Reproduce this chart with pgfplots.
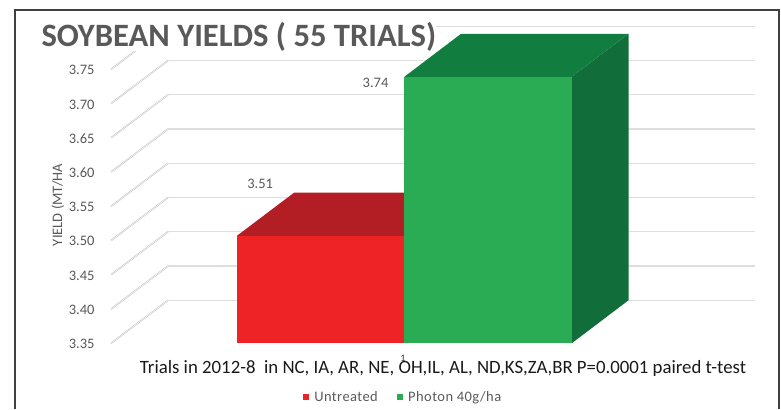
\documentclass[border=0pt]{standalone}
\usepackage{fontspec}
\setmainfont{Carlito}
\newfontfamily\lsfont[LetterSpace=3]{Carlito}
\usepackage{pgfplots}
\pgfplotsset{compat=1.18}
\definecolor{cred}{HTML}{EE2326}
\definecolor{credtop}{HTML}{B31E24}
\definecolor{cgreen}{HTML}{2AAC54}
\definecolor{cgreentop}{HTML}{117D3F}
\definecolor{cgreenside}{HTML}{116E3A}
\definecolor{cgrid}{HTML}{DEDEDE}
\definecolor{cdiag}{HTML}{BDBDBD}
\definecolor{ctext}{HTML}{595959}
\begin{document}
\begin{tikzpicture}
\begin{axis}[
  scale only axis, width=644pt, height=343.3pt,
  xmin=111, xmax=755, ymin=3.35, ymax=3.8512,
  clip=false,
  axis line style={draw=none},
  major tick length=0pt,
  xtick=\empty,
  ytick={3.35,3.40,3.45,3.50,3.55,3.60,3.65,3.70,3.75},
  /pgf/number format/.cd, fixed, fixed zerofill, precision=2, assume math mode=true,
  /pgfplots/.cd,
  yticklabel style={font=\fontsize{14.5}{15}\selectfont, text=ctext, anchor=east, xshift=-13pt, yshift=-0.8pt},
  ylabel={YIELD (MT/HA},
  every axis y label/.style={at={(rel axis cs:-0.0825,0.403)}, rotate=90, anchor=center,
     font=\fontsize{14.5}{15}\selectfont, text=ctext},
  title={SOYBEAN YIELDS ( 55 TRIALS)},
  every axis title/.style={at={(rel axis cs:0.1985,0.8925)}, anchor=center,
     font=\fontsize{32.6}{34}\selectfont\bfseries, text=ctext, fill=white, inner sep=0pt},
  xlabel={Trials in 2012-8\ \ in NC, IA, AR, NE, OH,IL, AL, ND,KS,ZA,BR P=0.0001 paired t-test},
  every axis x label/.style={at={(rel axis cs:0.5155,-0.0725)}, anchor=center,
     font=\fontsize{18.8}{20}\selectfont, text=black!90},
  legend columns=2,
  legend style={at={(rel axis cs:0.4535,-0.1564)}, anchor=center, draw=none, fill=none,
     inner sep=0pt, font=\fontsize{14.5}{15}\lsfont, text=ctext,
     /tikz/every even column/.style={column sep=17pt},
     /tikz/every odd column/.style={column sep=3pt}},
  unbounded coords=jump,
]
% depth of the 3-D box: 57 px across, 43 px (0.0628 in y) upward
% back wall and side wall gridlines
\addplot[forget plot, cgrid, line width=1.3pt] coordinates {
 (168,3.4128)(755,3.4128)(755,nan)
 (168,3.4628)(755,3.4628)(755,nan)
 (168,3.5128)(755,3.5128)(755,nan)
 (168,3.5628)(755,3.5628)(755,nan)
 (168,3.6128)(755,3.6128)(755,nan)
 (168,3.6628)(755,3.6628)(755,nan)
 (168,3.7128)(755,3.7128)(755,nan)
 (168,3.7628)(755,3.7628)(755,nan)
 (168,3.8128)(755,3.8128)
};
\addplot[forget plot, cdiag, line width=0.5pt, double=white, double distance=0.5pt] coordinates {
 (111,3.35)(168,3.4128)(168,nan)
 (111,3.40)(168,3.4628)(168,nan)
 (111,3.45)(168,3.5128)(168,nan)
 (111,3.50)(168,3.5628)(168,nan)
 (111,3.55)(168,3.6128)(168,nan)
 (111,3.60)(168,3.6628)(168,nan)
 (111,3.65)(168,3.7128)(168,nan)
 (111,3.70)(168,3.7628)(168,nan)
 (111,3.75)(168,3.8128)
};
% Untreated: top face, then front
\addplot[forget plot, fill=credtop, draw=none] coordinates {(237,3.507)(294,3.5698)(461,3.5698)(404.3,3.507)} -- cycle;
\addplot[ybar, bar width=167.3pt, bar shift=0pt, fill=cred, draw=none,
  legend image code/.code={\fill[cred] (0,-0.31em) rectangle (0.64em,0.33em);},
  nodes near coords, every node near coord/.append style={anchor=center, xshift=-60.5pt, yshift=51.7pt,
     font=\fontsize{14.5}{15}\selectfont, text=ctext}]
  coordinates {(320.65,3.507)};
\addlegendentry{Untreated}
% Photon 40g/ha: side, top, front
\addplot[forget plot, fill=cgreenside, draw=none] coordinates {(571.7,3.35)(628.5,3.4128)(628.5,3.8018)(571.7,3.739)} -- cycle;
\addplot[forget plot, fill=cgreentop, draw=none] coordinates {(404.3,3.739)(461,3.8018)(628.5,3.8018)(571.7,3.739)} -- cycle;
\addplot[ybar, bar width=167.4pt, bar shift=0pt, fill=cgreen, draw=none,
  legend image code/.code={\fill[cgreen] (0,-0.31em) rectangle (0.64em,0.33em);},
  nodes near coords, every node near coord/.append style={anchor=center, xshift=-112.5pt, yshift=-6.3pt,
     font=\fontsize{14.5}{15}\selectfont, text=ctext}]
  coordinates {(488,3.739)};
\addlegendentry{Photon 40g/ha}
\node[font=\fontsize{10}{10}\selectfont, text=black!80] at (axis cs:403,3.3285) {1};
% frame and page
\draw[black!75, line width=1.1pt] (axis cs:15,3.2541) -- (axis cs:15,3.8366) -- (axis cs:779,3.8366) -- (axis cs:779,3.2541);
\path (axis cs:0,3.8512) rectangle (axis cs:781,3.2541);
\end{axis}
\end{tikzpicture}
\end{document}
